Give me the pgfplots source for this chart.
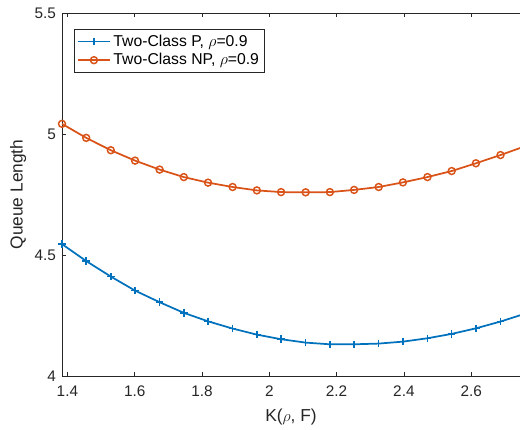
\documentclass[border=0pt]{standalone}
\usepackage{fontspec}
\setmainfont{Liberation Sans}
\usepackage{pgfplots}
\pgfplotsset{compat=1.18}
\definecolor{mblue}{RGB}{0,114,189}
\definecolor{morange}{RGB}{217,83,25}
\definecolor{axgray}{RGB}{38,38,38}

\begin{document}
\begin{tikzpicture}
\begin{axis}[
  scale only axis,
  width=343.5pt, height=272.25pt,
  xmin=1.384, xmax=2.745,
  ymin=4, ymax=5.5,
  axis x line*=box, axis y line*=left,
  xtick={1.4,1.6,...,2.6},
  ytick={4,4.5,5,5.5},
  tick align=inside,
  major tick length=3pt,
  axis line style={axgray, line width=0.6pt},
  every tick/.style={axgray, line width=0.6pt},
  tick label style={font=\fontsize{11.5}{13}\selectfont, text=axgray},
  xticklabel style={yshift=-4pt},
  yticklabel style={xshift=-1pt},
  /pgf/number format/assume math mode=true,
  xlabel={K($\rho$, F)},
  ylabel={Queue Length},
  label style={font=\fontsize{13}{15}\selectfont, text=axgray},
  xlabel style={at={(axis description cs:0.5,-0.113)}, anchor=center},
  ylabel style={at={(axis description cs:-0.096,0.5)}, anchor=center},
  legend style={at={(0,1)}, xshift=9pt, yshift=-12pt, anchor=north west,
    draw=axgray, line width=0.6pt, fill=white,
    font=\fontsize{11.8}{14}\selectfont, row sep=0pt, inner sep=2pt},
  legend cell align=left,
  legend image code/.code={%
    \draw[mark repeat=2,mark phase=2,#1] plot coordinates {(0pt,0pt) (12pt,0pt) (24pt,0pt)};},
  clip=true,
]
\coordinate (sw) at (rel axis cs:0,0);
\coordinate (ne) at (rel axis cs:1,1);
\addplot[mblue, line width=1.3pt, mark=+, mark size=2.8pt, mark options={line width=1.1pt}] coordinates {
(1.384,4.545) (1.456,4.475) (1.529,4.411) (1.601,4.353) (1.674,4.305)
(1.746,4.261) (1.818,4.226) (1.891,4.196) (1.963,4.171) (2.035,4.152)
(2.108,4.138) (2.180,4.131) (2.252,4.131) (2.325,4.134) (2.397,4.142)
(2.470,4.156) (2.542,4.174) (2.614,4.197) (2.687,4.225) (2.759,4.257)
};
\addlegendentry{Two-Class P, $\rho$=0.9}
\addplot[morange, line width=1.3pt, mark=o, mark size=2.6pt, mark options={line width=1.1pt}] coordinates {
(1.384,5.042) (1.456,4.984) (1.529,4.933) (1.601,4.890) (1.674,4.853)
(1.746,4.822) (1.818,4.799) (1.891,4.781) (1.963,4.767) (2.035,4.760)
(2.108,4.759) (2.180,4.760) (2.252,4.769) (2.325,4.781) (2.397,4.800)
(2.470,4.822) (2.542,4.847) (2.614,4.879) (2.687,4.913) (2.759,4.949)
};
\addlegendentry{Two-Class NP, $\rho$=0.9}
\end{axis}
\pgfresetboundingbox
\path ([shift={(-46.5pt,-39.75pt)}]sw) rectangle ([shift={(0pt,9.75pt)}]ne);
\end{tikzpicture}
\end{document}
